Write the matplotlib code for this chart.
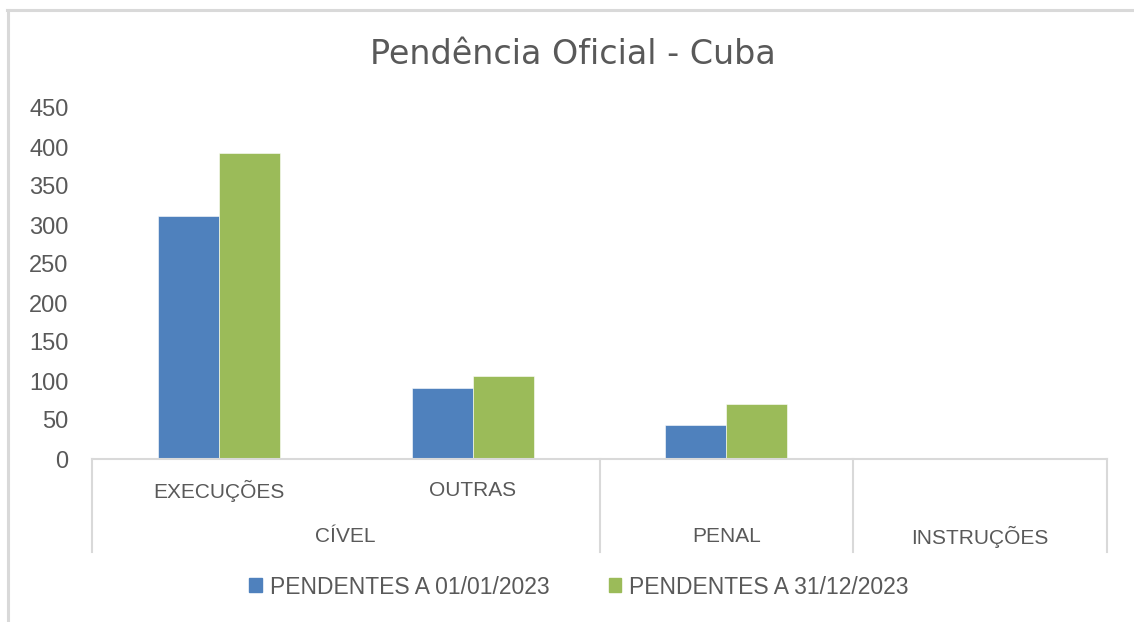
import matplotlib
matplotlib.use("Agg")
import matplotlib.pyplot as plt
from matplotlib.transforms import blended_transform_factory
from matplotlib.patches import Patch
from matplotlib.lines import Line2D

# dados
subcategorias = ["EXECUÇÕES", "OUTRAS", "", ""]
grupos = ["CÍVEL", "PENAL", "INSTRUÇÕES"]
pendentes_inicio = [312, 91, 43, 0]
pendentes_fim = [392, 106, 70, 0]
series = ["PENDENTES A 01/01/2023", "PENDENTES A 31/12/2023"]
yticks = [0, 50, 100, 150, 200, 250, 300, 350, 400, 450]

AZUL = "#4F81BD"
VERDE = "#9BBB59"
CINZA = "#595959"
LINHA = "#D9D9D9"
fonte = "Liberation Sans"

W, H = 1134, 622
fig = plt.figure(figsize=(W / 100, H / 100), dpi=100)

def fx(px):
    return px / W

def fy(py):
    return 1 - py / H

# moldura do gráfico (só topo e esquerda visíveis)
fig.add_artist(Line2D([fx(7), fx(1134)], [fy(10), fy(10)], color=LINHA, lw=2.2))
fig.add_artist(Line2D([fx(8), fx(8)], [fy(10), fy(622)], color=LINHA, lw=2.2))

ax = fig.add_axes([fx(92), fy(459), fx(1107) - fx(92), fy(108) - fy(459)])

x = list(range(len(pendentes_inicio)))
larg = 0.24
ax.bar([i - larg / 2 for i in x], pendentes_inicio, larg, color=AZUL, edgecolor="white", linewidth=0.4)
ax.bar([i + larg / 2 for i in x], pendentes_fim, larg, color=VERDE, edgecolor="white", linewidth=0.4)

ax.set_xlim(-0.5, 3.5)
ax.set_ylim(0, 450)
ax.set_yticks(yticks)
ax.set_yticklabels([str(v) for v in yticks], fontsize=17, color=CINZA, family=fonte)
ax.tick_params(axis="y", length=0, pad=17)
ax.set_xticks([])
for s in ["top", "right", "left"]:
    ax.spines[s].set_visible(False)
ax.spines["bottom"].set_color(LINHA)
ax.spines["bottom"].set_linewidth(1.5)

# eixo de categorias em dois níveis
tr = blended_transform_factory(ax.transData, fig.transFigure)
for xs in [-0.5, 1.5, 2.5, 3.5]:
    ax.add_artist(Line2D([xs, xs], [fy(459), fy(552)], transform=tr, color=LINHA, lw=1.5, clip_on=False))

for i, nome in enumerate(subcategorias):
    if nome:
        ax.text(i, fy(491), nome, transform=tr, ha="center", va="center",
                fontsize=15, color=CINZA, family=fonte)
for pos, nome in zip([0.5, 2, 3], grupos):
    ax.text(pos, fy(537), nome, transform=tr, ha="center", va="center",
            fontsize=15, color=CINZA, family=fonte)

fig.text(fx(573), fy(55), "Pendência Oficial - Cuba", ha="center", va="center",
         fontsize=24, color=CINZA, family="DejaVu Sans")

handles = [Patch(color=AZUL), Patch(color=VERDE)]
fig.legend(handles, series, loc="center", bbox_to_anchor=(fx(579), fy(587)), ncol=2,
           frameon=False, handlelength=0.55, handleheight=0.55, handletextpad=0.35,
           columnspacing=2.6, prop={"family": fonte, "size": 16.5}, labelcolor=CINZA)

fig.savefig("out.png", dpi=100, facecolor="white")
